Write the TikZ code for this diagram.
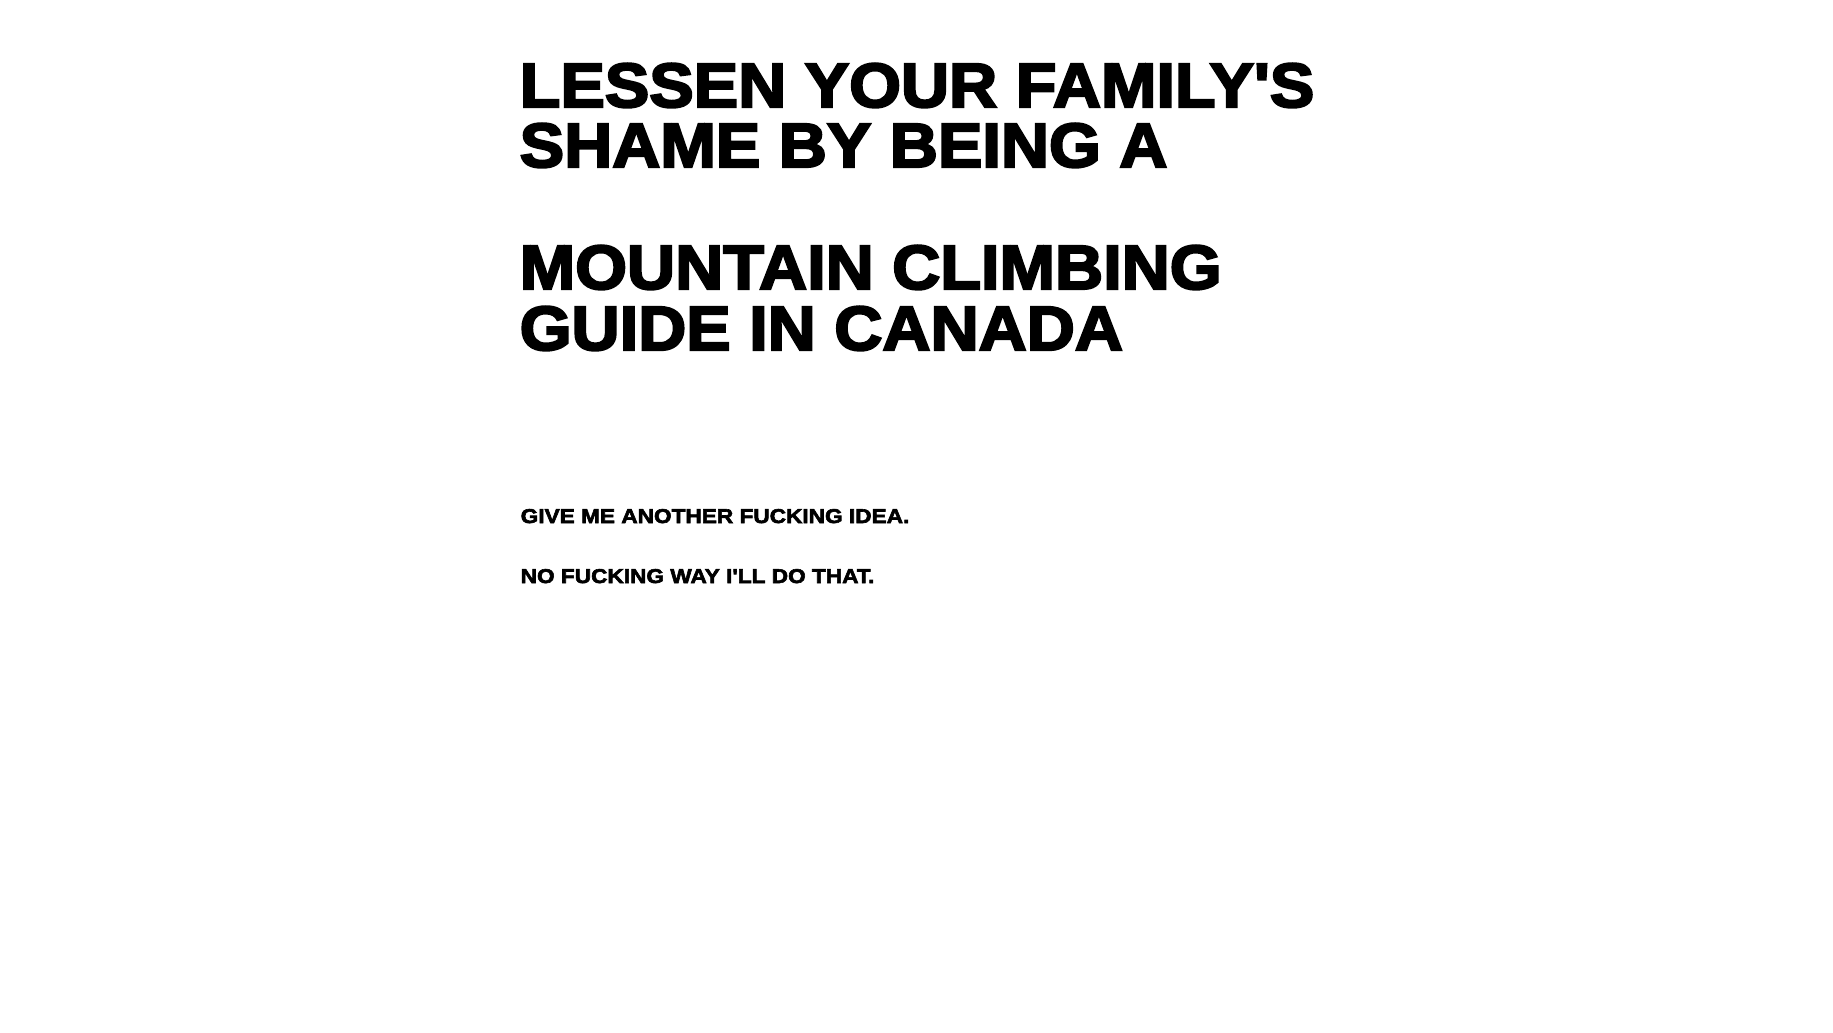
\documentclass[tikz,border=0pt]{standalone}
\usepackage{fontspec}
\setmainfont{Liberation Sans}
\newfontfamily\heavyfont[FakeBold=3.5,FakeStretch=1.065]{Liberation Sans Bold}
\newfontfamily\smallheavyfont[FakeBold=3,FakeStretch=1.13]{Liberation Sans Bold}
\begin{document}
\begin{tikzpicture}[big line/.style={anchor=base west,inner sep=0pt,font=\heavyfont\fontsize{17.8pt}{20pt}\selectfont},small line/.style={anchor=base west,inner sep=0pt,font=\smallheavyfont\fontsize{5.7pt}{7pt}\selectfont}]%
\useasboundingbox (0,0) rectangle (18.33,-10.32);
\begin{scope}[every node/.style={text=black}]
\node[big line] (t1) at (5.19,-1.07) {LESSEN YOUR FAMILY'S};
\node[big line] (t2) at (5.19,-1.67) {SHAME BY BEING A};
\node[big line] (t3) at (5.19,-2.89) {MOUNTAIN CLIMBING};
\node[big line] (t4) at (5.19,-3.50) {GUIDE IN CANADA};
\end{scope}
\begin{scope}[every node/.style={text=black}]
\node[small line] (s1) at (5.2,-5.23) {GIVE ME ANOTHER FUCKING IDEA.};
\node[small line] (s2) at (5.2,-5.83) {NO FUCKING WAY I'LL DO THAT.};
\end{scope}
\end{tikzpicture}
\end{document}
